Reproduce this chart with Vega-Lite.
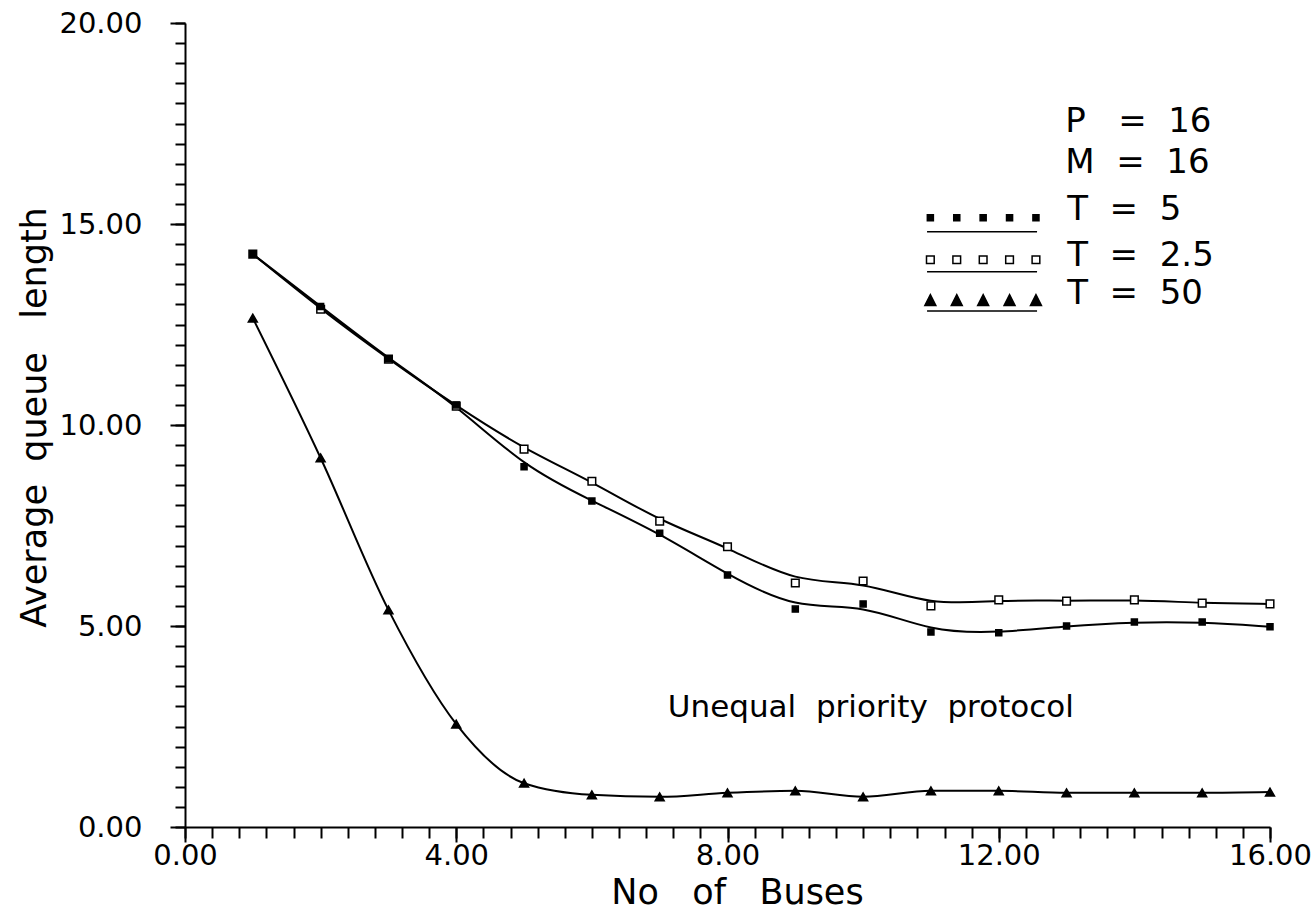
{
  "$schema": "https://vega.github.io/schema/vega-lite/v6.json",
  "width": 1085,
  "height": 804,
  "autosize": {"type": "none"},
  "padding": {"left": 185, "top": 23, "right": 41, "bottom": 83},
  "background": "white",
  "datasets": {
    "main": [
      {"series": "T = 2.5", "buses": 1, "queue": 14.25},
      {"series": "T = 2.5", "buses": 2, "queue": 12.88},
      {"series": "T = 2.5", "buses": 3, "queue": 11.64},
      {"series": "T = 2.5", "buses": 4, "queue": 10.47},
      {"series": "T = 2.5", "buses": 5, "queue": 9.4},
      {"series": "T = 2.5", "buses": 6, "queue": 8.6},
      {"series": "T = 2.5", "buses": 7, "queue": 7.61},
      {"series": "T = 2.5", "buses": 8, "queue": 6.97},
      {"series": "T = 2.5", "buses": 9, "queue": 6.07},
      {"series": "T = 2.5", "buses": 10, "queue": 6.12},
      {"series": "T = 2.5", "buses": 11, "queue": 5.5},
      {"series": "T = 2.5", "buses": 12, "queue": 5.65},
      {"series": "T = 2.5", "buses": 13, "queue": 5.62},
      {"series": "T = 2.5", "buses": 14, "queue": 5.65},
      {"series": "T = 2.5", "buses": 15, "queue": 5.57},
      {"series": "T = 2.5", "buses": 16, "queue": 5.55},
      {"series": "T = 5", "buses": 1, "queue": 14.25},
      {"series": "T = 5", "buses": 2, "queue": 12.95},
      {"series": "T = 5", "buses": 3, "queue": 11.65},
      {"series": "T = 5", "buses": 4, "queue": 10.5},
      {"series": "T = 5", "buses": 5, "queue": 8.96},
      {"series": "T = 5", "buses": 6, "queue": 8.11},
      {"series": "T = 5", "buses": 7, "queue": 7.31},
      {"series": "T = 5", "buses": 8, "queue": 6.27},
      {"series": "T = 5", "buses": 9, "queue": 5.42},
      {"series": "T = 5", "buses": 10, "queue": 5.55},
      {"series": "T = 5", "buses": 11, "queue": 4.85},
      {"series": "T = 5", "buses": 12, "queue": 4.83},
      {"series": "T = 5", "buses": 13, "queue": 5.0},
      {"series": "T = 5", "buses": 14, "queue": 5.1},
      {"series": "T = 5", "buses": 15, "queue": 5.1},
      {"series": "T = 5", "buses": 16, "queue": 4.98},
      {"series": "T = 50", "buses": 1, "queue": 12.66},
      {"series": "T = 50", "buses": 2, "queue": 9.18},
      {"series": "T = 50", "buses": 3, "queue": 5.4},
      {"series": "T = 50", "buses": 4, "queue": 2.56},
      {"series": "T = 50", "buses": 5, "queue": 1.09},
      {"series": "T = 50", "buses": 6, "queue": 0.8},
      {"series": "T = 50", "buses": 7, "queue": 0.75},
      {"series": "T = 50", "buses": 8, "queue": 0.85},
      {"series": "T = 50", "buses": 9, "queue": 0.9},
      {"series": "T = 50", "buses": 10, "queue": 0.75},
      {"series": "T = 50", "buses": 11, "queue": 0.9},
      {"series": "T = 50", "buses": 12, "queue": 0.9},
      {"series": "T = 50", "buses": 13, "queue": 0.85},
      {"series": "T = 50", "buses": 14, "queue": 0.85},
      {"series": "T = 50", "buses": 15, "queue": 0.85},
      {"series": "T = 50", "buses": 16, "queue": 0.87}
    ]
  },
  "config": {
    "view": {"stroke": null},
    "font": "DejaVu Sans",
    "axis": {
      "grid": false,
      "domainColor": "black",
      "domainWidth": 2,
      "tickColor": "black",
      "tickWidth": 2,
      "labelColor": "black",
      "labelFont": "DejaVu Sans",
      "labelFontSize": 29,
      "titleColor": "black",
      "titleFont": "DejaVu Sans",
      "titleFontSize": 35,
      "titleFontWeight": "normal"
    }
  },
  "resolve": {"axis": {"x": "independent", "y": "independent"}},
  "layer": [
    {
      "data": {"name": "main"},
      "transform": [{"filter": "datum.series !== 'T = 50'"}],
      "mark": {"type": "line", "interpolate": "basis", "color": "black", "strokeWidth": 2},
      "encoding": {
        "x": {
          "field": "buses", "type": "quantitative",
          "scale": {"domain": [0, 16], "nice": false},
          "axis": {
            "orient": "bottom",
            "values": [0, 4, 8, 12, 16], "format": ".2f", "tickSize": 15,
            "labelPadding": 22, "labelBaseline": "alphabetic", "labelFlush": false,
            "title": "No\u00a0\u00a0\u00a0of\u00a0\u00a0\u00a0Buses",
            "titleX": 552, "titleY": 76, "titleBaseline": "alphabetic", "titleAlign": "center"
          }
        },
        "y": {
          "field": "queue", "type": "quantitative",
          "scale": {"domain": [0, 20], "nice": false},
          "axis": {
            "orient": "left",
            "values": [0, 5, 10, 15, 20], "format": ".2f", "tickSize": 15,
            "labelPadding": 28, "labelFlush": false,
            "title": "Average\u00a0\u00a0queue\u00a0\u00a0\u00a0length",
            "titleX": -140, "titleY": 394, "titleAngle": -90,
            "titleBaseline": "alphabetic", "titleAlign": "center"
          }
        },
        "detail": {"field": "series"}
      }
    },
    {
      "data": {"name": "main"},
      "transform": [{"filter": "datum.series === 'T = 50'"}],
      "mark": {"type": "line", "interpolate": "monotone", "color": "black", "strokeWidth": 2},
      "encoding": {
        "x": {"field": "buses", "type": "quantitative", "scale": {"domain": [0, 16], "nice": false}, "axis": null},
        "y": {"field": "queue", "type": "quantitative", "scale": {"domain": [0, 20], "nice": false}, "axis": null}
      }
    },
    {
      "data": {"name": "main"},
      "mark": {"type": "point", "filled": true, "stroke": "black", "strokeWidth": 1.5, "opacity": 1},
      "encoding": {
        "x": {
          "field": "buses", "type": "quantitative",
          "scale": {"domain": [0, 16], "nice": false},
          "axis": {
            "orient": "bottom",
            "values": [0, 0.4, 0.8, 1.2, 1.6, 2, 2.4, 2.8, 3.2, 3.6, 4, 4.4, 4.8, 5.2, 5.6, 6, 6.4, 6.8, 7.2, 7.6, 8, 8.4, 8.8, 9.2, 9.6, 10, 10.4, 10.8, 11.2, 11.6, 12, 12.4, 12.8, 13.2, 13.6, 14, 14.4, 14.8, 15.2, 15.6, 16],
            "tickSize": 11, "labels": false, "domain": false, "title": null
          }
        },
        "y": {
          "field": "queue", "type": "quantitative",
          "scale": {"domain": [0, 20], "nice": false},
          "axis": {
            "orient": "left",
            "values": [0, 0.5, 1, 1.5, 2, 2.5, 3, 3.5, 4, 4.5, 5, 5.5, 6, 6.5, 7, 7.5, 8, 8.5, 9, 9.5, 10, 10.5, 11, 11.5, 12, 12.5, 13, 13.5, 14, 14.5, 15, 15.5, 16, 16.5, 17, 17.5, 18, 18.5, 19, 19.5, 20],
            "tickSize": 10, "labels": false, "domain": false, "title": null
          }
        },
        "shape": {
          "field": "series", "type": "nominal",
          "scale": {"domain": ["T = 5", "T = 2.5", "T = 50"], "range": ["square", "square", "triangle-up"]},
          "legend": null
        },
        "fill": {
          "field": "series", "type": "nominal",
          "scale": {"domain": ["T = 5", "T = 2.5", "T = 50"], "range": ["black", "white", "black"]},
          "legend": null
        },
        "size": {
          "field": "series", "type": "nominal",
          "scale": {"domain": ["T = 5", "T = 2.5", "T = 50"], "range": [36, 80, 144]},
          "legend": null
        }
      }
    },
    {
      "data": {"values": [{}]},
      "mark": {"type": "text", "text": "P\u00a0\u00a0\u00a0=\u00a0\u00a016", "align": "left", "baseline": "middle", "fontSize": 34, "font": "DejaVu Sans", "color": "black"},
      "encoding": {
        "x": {"datum": 12.98, "type": "quantitative", "scale": {"domain": [0, 16], "nice": false}, "axis": null},
        "y": {"datum": 17.54, "type": "quantitative", "scale": {"domain": [0, 20], "nice": false}, "axis": null}
      }
    },
    {
      "data": {"values": [{}]},
      "mark": {"type": "text", "text": "M\u00a0\u00a0=\u00a0\u00a016", "align": "left", "baseline": "middle", "fontSize": 34, "font": "DejaVu Sans", "color": "black"},
      "encoding": {
        "x": {"datum": 12.98, "type": "quantitative", "scale": {"domain": [0, 16], "nice": false}, "axis": null},
        "y": {"datum": 16.52, "type": "quantitative", "scale": {"domain": [0, 20], "nice": false}, "axis": null}
      }
    },
    {
      "data": {"values": [{}]},
      "mark": {"type": "text", "text": "T\u00a0\u00a0=\u00a0\u00a05", "align": "left", "baseline": "middle", "fontSize": 34, "font": "DejaVu Sans", "color": "black"},
      "encoding": {
        "x": {"datum": 13.01, "type": "quantitative", "scale": {"domain": [0, 16], "nice": false}, "axis": null},
        "y": {"datum": 15.35, "type": "quantitative", "scale": {"domain": [0, 20], "nice": false}, "axis": null}
      }
    },
    {
      "data": {"values": [{}]},
      "mark": {"type": "text", "text": "T\u00a0\u00a0=\u00a0\u00a02.5", "align": "left", "baseline": "middle", "fontSize": 34, "font": "DejaVu Sans", "color": "black"},
      "encoding": {
        "x": {"datum": 13.01, "type": "quantitative", "scale": {"domain": [0, 16], "nice": false}, "axis": null},
        "y": {"datum": 14.2, "type": "quantitative", "scale": {"domain": [0, 20], "nice": false}, "axis": null}
      }
    },
    {
      "data": {"values": [{}]},
      "mark": {"type": "text", "text": "T\u00a0\u00a0=\u00a0\u00a050", "align": "left", "baseline": "middle", "fontSize": 34, "font": "DejaVu Sans", "color": "black"},
      "encoding": {
        "x": {"datum": 13.01, "type": "quantitative", "scale": {"domain": [0, 16], "nice": false}, "axis": null},
        "y": {"datum": 13.26, "type": "quantitative", "scale": {"domain": [0, 20], "nice": false}, "axis": null}
      }
    },
    {
      "data": {"values": [{}]},
      "mark": {"type": "text", "text": "Unequal\u00a0\u00a0priority\u00a0\u00a0protocol", "align": "left", "baseline": "middle", "fontSize": 31, "font": "DejaVu Sans", "color": "black"},
      "encoding": {
        "x": {"datum": 7.12, "type": "quantitative", "scale": {"domain": [0, 16], "nice": false}, "axis": null},
        "y": {"datum": 2.96, "type": "quantitative", "scale": {"domain": [0, 20], "nice": false}, "axis": null}
      }
    },
    {
      "data": {"values": [{}]},
      "mark": {"type": "point", "filled": true, "fill": "black", "stroke": "black", "strokeWidth": 1.5, "opacity": 1, "size": 12100,
        "shape": "M-1.015,-0.182h0.11v0.11h-0.11z M-0.535,-0.182h0.11v0.11h-0.11z M-0.055,-0.182h0.11v0.11h-0.11z M0.425,-0.182h0.11v0.11h-0.11z M0.905,-0.182h0.11v0.11h-0.11z M-1.02,0.127H0.98"},
      "encoding": {
        "x": {"datum": 11.77, "type": "quantitative", "scale": {"domain": [0, 16], "nice": false}, "axis": null},
        "y": {"datum": 14.98, "type": "quantitative", "scale": {"domain": [0, 20], "nice": false}, "axis": null}
      }
    },
    {
      "data": {"values": [{}]},
      "mark": {"type": "point", "filled": false, "stroke": "black", "strokeWidth": 1.5, "opacity": 1, "size": 12100,
        "shape": "M-1.03,-0.18h0.14v0.14h-0.14z M-0.55,-0.18h0.14v0.14h-0.14z M-0.07,-0.18h0.14v0.14h-0.14z M0.41,-0.18h0.14v0.14h-0.14z M0.89,-0.18h0.14v0.14h-0.14z M-1.02,0.11H0.98"},
      "encoding": {
        "x": {"datum": 11.77, "type": "quantitative", "scale": {"domain": [0, 16], "nice": false}, "axis": null},
        "y": {"datum": 13.96, "type": "quantitative", "scale": {"domain": [0, 20], "nice": false}, "axis": null}
      }
    },
    {
      "data": {"values": [{}]},
      "mark": {"type": "point", "filled": true, "fill": "black", "stroke": "black", "strokeWidth": 1.5, "opacity": 1, "size": 12100,
        "shape": "M-0.96,-0.2L-0.86,0H-1.06Z M-0.48,-0.2L-0.38,0H-0.58Z M0,-0.2L0.1,0H-0.1Z M0.48,-0.2L0.58,0H0.38Z M0.96,-0.2L1.06,0H0.86Z M-1.02,0.1H0.98"},
      "encoding": {
        "x": {"datum": 11.77, "type": "quantitative", "scale": {"domain": [0, 16], "nice": false}, "axis": null},
        "y": {"datum": 12.97, "type": "quantitative", "scale": {"domain": [0, 20], "nice": false}, "axis": null}
      }
    }
  ]
}
